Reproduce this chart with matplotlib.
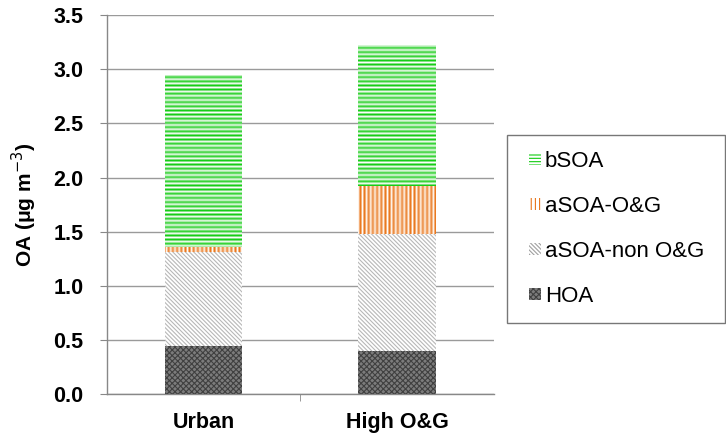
import matplotlib
matplotlib.use("Agg")
import matplotlib.pyplot as plt
from matplotlib.patches import Patch, Rectangle
from matplotlib.legend_handler import HandlerPatch
import numpy as np

plt.rcParams['font.family'] = ['Liberation Sans', 'DejaVu Sans']
plt.rcParams['hatch.linewidth'] = 0.8

categories = ["Urban", "High O&G"]
series_names = ["HOA", "aSOA-non O&G", "aSOA-O&G", "bSOA"]
hoa = [0.45, 0.40]
asoa_non = [0.86, 1.08]
asoa_og = [0.05, 0.44]
bsoa = [1.59, 1.30]
yticks = [0.0, 0.5, 1.0, 1.5, 2.0, 2.5, 3.0, 3.5]

fig = plt.figure(figsize=(7.26, 4.44), dpi=100)
ax = fig.add_axes([0.1474, 0.112, 0.5326, 0.854])

x = np.arange(len(categories))
w = 0.40
bottom = np.zeros(len(categories))

# HOA
ax.bar(x, hoa, w, bottom=bottom, facecolor='#7c7c7c', edgecolor='#404040',
       hatch='xxxxxx', linewidth=0, zorder=3)
bottom += np.array(hoa)
# aSOA-non O&G
ax.bar(x, asoa_non, w, bottom=bottom, facecolor='white', edgecolor='#b8b8b8',
       hatch='\\' * 8, linewidth=0, zorder=3)
bottom += np.array(asoa_non)
# aSOA-O&G
ax.bar(x, asoa_og, w, bottom=bottom, facecolor='white', edgecolor='#f5b27c',
       hatch='||||||||', linewidth=0, zorder=3)
ax.bar(x, asoa_og, w, bottom=bottom, facecolor='none', edgecolor='#e8761c',
       hatch='||||', linewidth=0, zorder=3)
bottom += np.array(asoa_og)
# bSOA
ax.bar(x, bsoa, w, bottom=bottom, facecolor='white', edgecolor='#86e386',
       hatch='--------', linewidth=0, zorder=3)
ax.bar(x, bsoa, w, bottom=bottom, facecolor='none', edgecolor='#10cc10',
       hatch='----', linewidth=0, zorder=3)
bottom += np.array(bsoa)

ax.set_xlim(-0.5, 1.5)
ax.set_ylim(0, 3.5)
ax.set_yticks(yticks)
ax.set_yticklabels([f"{v:.1f}" for v in yticks], fontsize=15.5, fontweight='bold')
ax.set_xticks(x)
ax.set_xticklabels(categories, fontsize=15.5, fontweight='bold')
ax.tick_params(axis='x', length=0, pad=13)
ax.tick_params(axis='y', length=5, color='#888888', pad=12)
ax.set_xticks([0.5], minor=True)
ax.tick_params(axis='x', which='minor', length=5, color='#888888')

ax.yaxis.grid(True, color='#9a9a9a', linewidth=1.0, zorder=0)
ax.set_axisbelow(True)
for s in ['top', 'right']:
    ax.spines[s].set_visible(False)
for s in ['left', 'bottom']:
    ax.spines[s].set_color('#888888')
    ax.spines[s].set_linewidth(1.0)

ax.set_ylabel("OA (μg m$^{-3}$)", fontsize=15, fontweight='bold', labelpad=10)


def small_patch(legend, orig_handle, xdescent, ydescent, width, height, fontsize):
    s = height
    return Rectangle((width - s - xdescent, -ydescent), s, s)


handles = [
    Patch(facecolor='white', edgecolor='#10cc10', hatch='-----', linewidth=0),
    Patch(facecolor='white', edgecolor='#e8761c', hatch='||||', linewidth=0),
    Patch(facecolor='white', edgecolor='#a0a0a0', hatch='\\' * 8, linewidth=0),
    Patch(facecolor='#7c7c7c', edgecolor='#404040', hatch='xxxxxx', linewidth=0),
]
labels = ["bSOA", "aSOA-O&G", "aSOA-non O&G", "HOA"]
leg = fig.legend(handles, labels, loc='upper left',
                 bbox_to_anchor=(0.698, 0.284, 0.300, 0.412), mode='expand',
                 fontsize=16, frameon=True, fancybox=False, borderpad=0.72,
                 labelspacing=1.08, handlelength=0.8, handleheight=0.4,
                 handletextpad=0.2, borderaxespad=0,
                 handler_map={Patch: HandlerPatch(patch_func=small_patch)})
leg.get_frame().set_edgecolor('#555555')
leg.get_frame().set_linewidth(1.0)

fig.savefig("out.png", dpi=100)
